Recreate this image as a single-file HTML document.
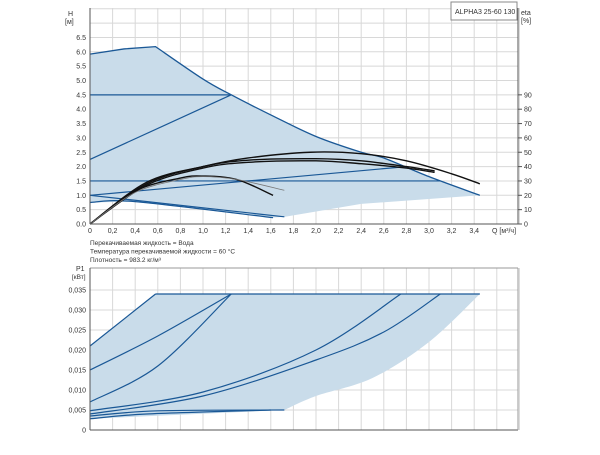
<!DOCTYPE html>
<html><head><meta charset="utf-8"><style>
body{margin:0;background:#fff;width:600px;height:450px;overflow:hidden}
svg{font-family:"Liberation Sans",sans-serif}
</style></head><body>
<svg id="c" width="600" height="450"></svg>
<script>
// ---- data ----
const qTicks=[0,0.2,0.4,0.6,0.8,1.0,1.2,1.4,1.6,1.8,2.0,2.2,2.4,2.6,2.8,3.0,3.2,3.4];
const hTicks=[0,0.5,1,1.5,2,2.5,3,3.5,4,4.5,5,5.5,6,6.5];
const etaTicks=[0,10,20,30,40,50,60,70,80,90];
const pTicks=[0,0.005,0.010,0.015,0.020,0.025,0.030,0.035];
const hEnvelopeQ=[0,0.3,0.58,1.0,1.25,1.6,2.0,2.4,2.6,3.0,3.45];
const hEnvelopeH=[5.92,6.1,6.18,5.05,4.5,3.8,3.05,2.5,2.3,1.65,1.0];
const hShadeBottomQ=[3.45,2.4,1.72,1.6,0.4,0];
const hShadeBottomH=[1.0,0.7,0.25,0.22,0.78,0.75];
const hLinesQ=[[0,1.25],[0,1.25],[0,3.1],[0,2.8],[0,0.4,1.62],[0,1.72]];
const hLinesH=[[4.5,4.5],[2.25,4.5],[1.5,1.5],[1.0,2.0],[0.75,0.78,0.22],[1.0,0.25]];
const etaQ=[[0,0.5,1.0,1.4,1.95,2.4,2.8,3.2,3.45],[0,0.5,1.0,1.4,2.0,2.4,2.8,3.05],[0,0.5,1.0,1.4,2.0,2.4,2.8,3.05],[0,0.4,0.8,1.0,1.3,1.62],[0,0.4,0.8,1.0,1.3,1.72]];
const etaV=[[0,29,40,46,50,49,44,35,28],[0,28,40,44.5,45.5,44,40,37],[0,27,39,43,44,42,39,36],[0,23,32,33.4,31,20],[0,22,31,33,31,23.5]];
const pShadeQ=[0,0.58,3.45,3.0,2.5,2.0,1.72,0];
const pShadeP=[0.021,0.034,0.034,0.022,0.013,0.0085,0.005,0.0028];
const pLinesQ=[[0,0.58],[0,0.6,1.25],[0,0.6,1.25],[0,1.0,2.0,2.75],[0,1.0,2.0,2.6,3.1],[0,0.6,1.72],[0,0.5,1.6],[0.58,3.45]];
const pLinesP=[[0.021,0.034],[0.015,0.0235,0.034],[0.007,0.016,0.034],[0.0048,0.0095,0.02,0.034],[0.004,0.0085,0.0175,0.0245,0.034],[0.0035,0.0048,0.005],[0.0028,0.004,0.005],[0.034,0.034]];
// ---- scales ----
const X0=90,XS=113,xr=q=>X0+q*XS;
const yH=h=>224-h*28.7, yE=e=>224-e*1.435, yP=p=>430-p*4000;
const svg=document.getElementById('c');const NS='http://www.w3.org/2000/svg';
function el(t,a,txt){const e=document.createElementNS(NS,t);for(const k in a)e.setAttribute(k,a[k]);if(txt!==undefined)e.textContent=txt;svg.appendChild(e);return e;}
function path(pts){if(pts.length<3)return 'M'+pts.map(p=>p.join(',')).join('L');let d='M'+pts[0].join(',');for(let i=0;i<pts.length-1;i++){const p0=pts[i-1]||pts[i],p1=pts[i],p2=pts[i+1],p3=pts[i+2]||p2;d+=`C${p1[0]+(p2[0]-p0[0])/6},${p1[1]+(p2[1]-p0[1])/6} ${p2[0]-(p3[0]-p1[0])/6},${p2[1]-(p3[1]-p1[1])/6} ${p2[0]},${p2[1]}`;}return d;}
const blue='#1a5896',shade='#c9dcea',grid='#d8d8d8';
// ---- top grid ----
for(let i=0;i<=19;i++){const g=el('line',{x1:xr(i*0.2),x2:xr(i*0.2),y1:8,y2:224,stroke:grid,'stroke-width':1});}
for(let i=0;i<=15;i++){const g=el('line',{x1:90,x2:518,y1:yH(i*0.5),y2:yH(i*0.5),stroke:grid,'stroke-width':1});}
// envelope: straight first part, smooth after knee
const envPts=hEnvelopeQ.map((q,i)=>[xr(q),yH(hEnvelopeH[i])]);
const envD='M'+envPts.slice(0,3).map(p=>p.join(',')).join('L')+'L'+path(envPts.slice(2)).slice(1);
let s=el('path',{d:envD+'L'+hShadeBottomQ.map((q,i)=>[xr(q),yH(hShadeBottomH[i])].join(',')).join('L')+'Z',fill:shade,stroke:'none'});

let e=el('path',{d:envD,fill:'none',stroke:blue,'stroke-width':1.3});

hLinesQ.forEach((qs,j)=>{const l=el('path',{d:path(qs.map((q,i)=>[xr(q),yH(hLinesH[j][i])])),fill:'none',stroke:blue,'stroke-width':1.2});});
etaQ.forEach((qs,j)=>{const l=el('path',{d:path(qs.map((q,i)=>[xr(q),yE(etaV[j][i])])),fill:'none',stroke:j==4?'#777':'#111','stroke-width':j==4?0.8:1.4});});
// axes top
el('line',{x1:90,x2:90,y1:8,y2:224,stroke:'#555'});el('line',{x1:90,x2:518,y1:224,y2:224,stroke:'#555'});el('line',{x1:518,x2:518,y1:8,y2:224,stroke:'#555'});
hTicks.forEach(h=>{const t=el('text',{x:86,y:yH(h)+2.5,'font-size':7,'text-anchor':'end',fill:'#333'},h.toFixed(1));});
etaTicks.forEach(v=>{el('line',{x1:518,x2:522,y1:yE(v),y2:yE(v),stroke:'#555'});const t=el('text',{x:524,y:yE(v)+2.5,'font-size':7,fill:'#333'},v);});
qTicks.forEach(q=>{const t=el('text',{x:xr(q),y:233,'font-size':7,'text-anchor':'middle',fill:'#333'},q===0?'0':q.toFixed(1).replace('.',','));});
let t;
t=el('text',{x:68,y:16,'font-size':7,fill:'#333'},'H');
el('text',{x:65,y:24,'font-size':7,fill:'#333'},'[м]');
t=el('text',{x:521,y:15,'font-size':7,fill:'#333'},'eta');
el('text',{x:521,y:23,'font-size':7,fill:'#333'},'[%]');
t=el('text',{x:492,y:233,'font-size':7,fill:'#333'},'Q [м³/ч]');
const bx=el('rect',{x:451,y:2,width:66,height:18,fill:'#fff',stroke:'#888'});
t=el('text',{x:455,y:14,'font-size':7,fill:'#333'},'ALPHA3 25-60 130');
['Перекачиваемая жидкость = Вода','Температура перекачиваемой жидкости = 60 °C','Плотность = 983.2 кг/м³'].forEach((s,i)=>{const t=el('text',{x:90,y:245+i*8.5,'font-size':6.5,fill:'#333'},s);});
// ---- bottom chart ----
for(let i=0;i<=19;i++){el('line',{x1:xr(i*0.2),x2:xr(i*0.2),y1:268,y2:430,stroke:grid});}
for(let i=0;i<=7;i++){el('line',{x1:90,x2:518,y1:yP(i*0.005),y2:yP(i*0.005),stroke:grid});}
el('line',{x1:90,x2:518,y1:268,y2:268,stroke:'#999'});
const bottomCurve=path(pShadeQ.slice(2,7).map((q,i)=>[xr(q),yP(pShadeP[i+2])]));
const pts2=[[xr(pShadeQ[7]),yP(pShadeP[7])],[xr(pShadeQ[0]),yP(pShadeP[0])],[xr(pShadeQ[1]),yP(pShadeP[1])]];
s=el('path',{d:'M'+pts2.map(p=>p.join(',')).join('L')+'L'+bottomCurve.slice(1)+'Z',fill:shade});

pLinesQ.forEach((qs,j)=>{const l=el('path',{d:path(qs.map((q,i)=>[xr(q),yP(pLinesP[j][i])])),fill:'none',stroke:blue,'stroke-width':1.2});});
el('line',{x1:90,x2:90,y1:268,y2:430,stroke:'#555'});el('line',{x1:90,x2:518,y1:430,y2:430,stroke:'#555'});el('line',{x1:518,x2:518,y1:268,y2:430,stroke:'#999'});
pTicks.forEach(p=>{const t=el('text',{x:86,y:yP(p)+2.5,'font-size':7,'text-anchor':'end',fill:'#333'},p===0?'0':p.toFixed(3).replace('.',','));});
t=el('text',{x:76,y:271,'font-size':7,fill:'#333'},'P1');
el('text',{x:72,y:279,'font-size':6.5,fill:'#333'},'[кВт]');
</script></body></html>
